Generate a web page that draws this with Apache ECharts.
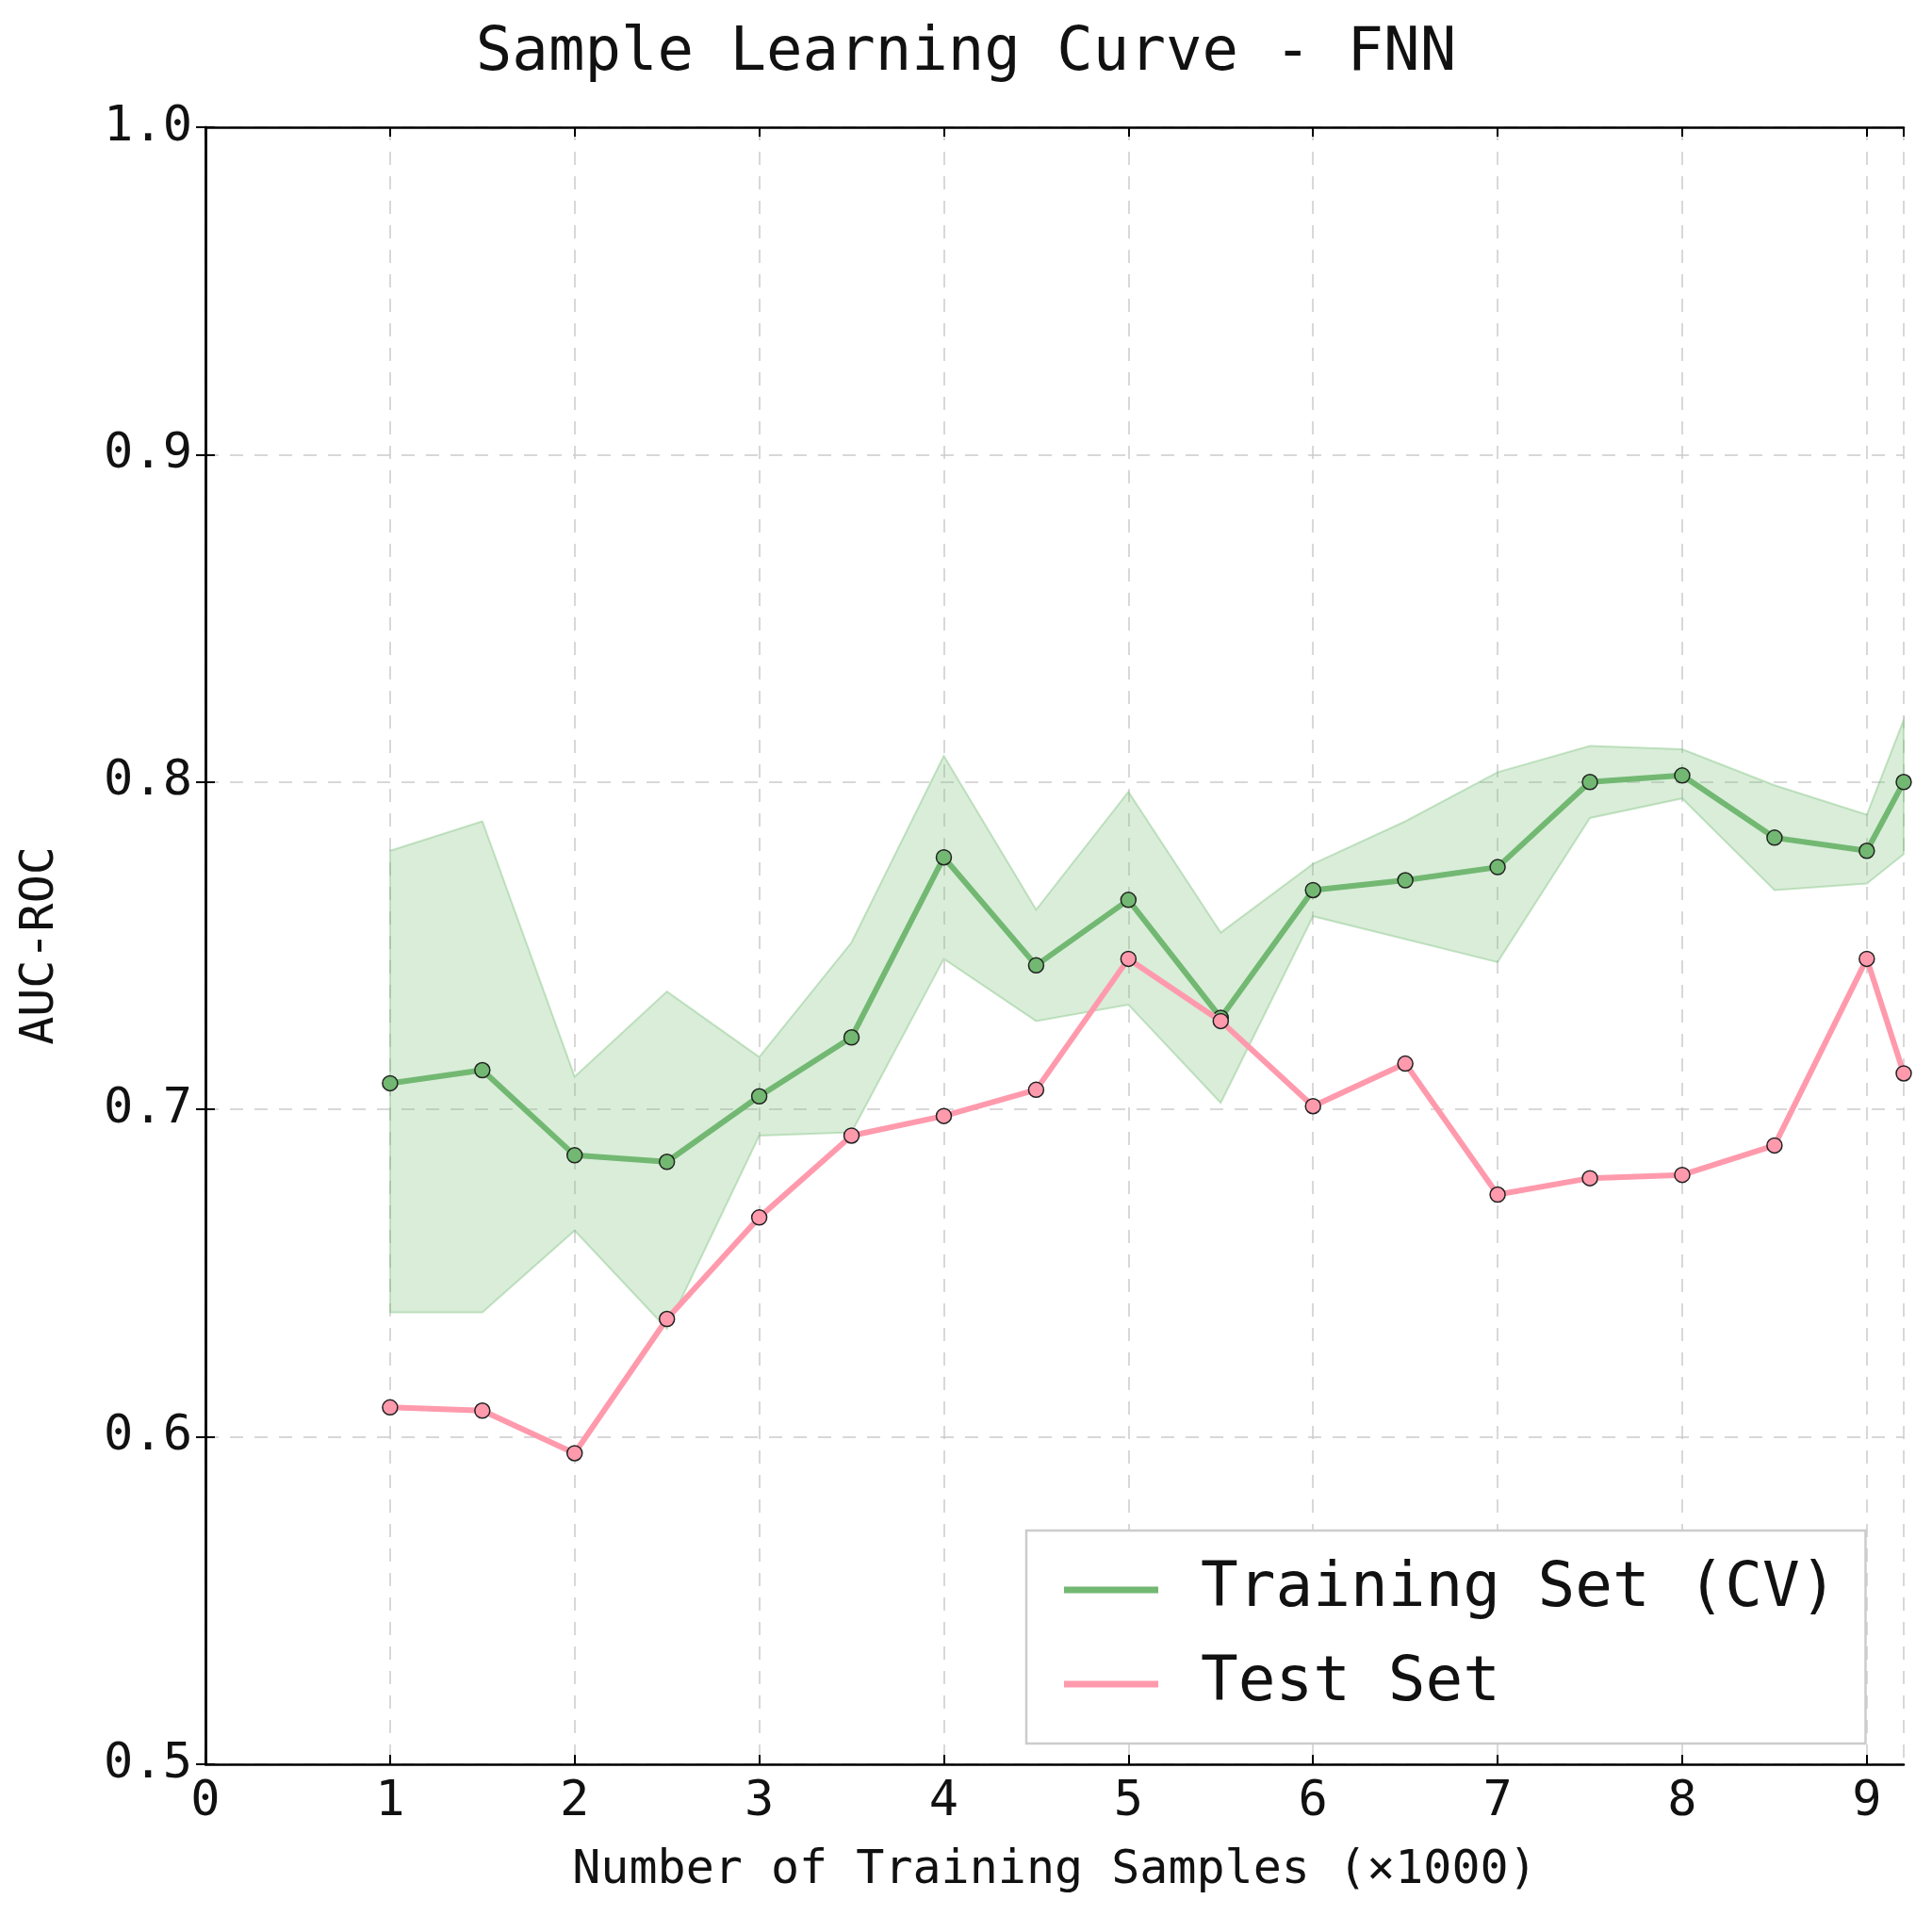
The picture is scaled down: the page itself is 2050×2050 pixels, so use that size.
<!DOCTYPE html>
<html><head><meta charset="utf-8">
<script src="https://cdn.jsdelivr.net/npm/echarts@6/dist/echarts.min.js"></script>
<style>html,body{margin:0;padding:0;background:#fff}#c{width:2050px;height:2050px}</style>
</head><body><div id="c"></div>
<script>
const xs = [1,1.5,2,2.5,3,3.5,4,4.5,5,5.5,6,6.5,7,7.5,8,8.5,9,9.2];
const trainMean = [0.708,0.712,0.686,0.684,0.704,0.722,0.777,0.744,0.764,0.728,0.767,0.770,0.774,0.800,0.802,0.783,0.779,0.800];
const trainUpper = [0.779,0.788,0.710,0.736,0.716,0.751,0.808,0.761,0.797,0.754,0.775,0.788,0.803,0.811,0.810,0.799,0.790,0.819];
const trainLower = [0.638,0.638,0.663,0.633,0.692,0.693,0.746,0.727,0.732,0.702,0.759,0.752,0.745,0.789,0.795,0.767,0.769,0.778];
const testVals = [0.609,0.608,0.595,0.636,0.667,0.692,0.698,0.706,0.746,0.727,0.701,0.714,0.674,0.679,0.680,0.689,0.746,0.711];
const F = 'DejaVu Sans Mono';
const pair = a => xs.map((x,i)=>[x,a[i]]);
const tickBase = {inside:true,length:10,lineStyle:{color:'#000',width:2}};
const chart = echarts.init(document.getElementById('c'));
chart.setOption({
  animation:false,
  title:{text:'Sample Learning Curve - FNN',left:'center',top:20,textStyle:{fontFamily:F,fontSize:64,fontWeight:'normal',color:'#111'}},
  grid:{left:218,right:30,top:135,bottom:178},
  xAxis:[{type:'value',min:0,max:9.2,interval:1,name:'Number of Training Samples (×1000)',nameLocation:'middle',nameGap:88,
    nameTextStyle:{fontFamily:F,fontSize:50,color:'#111'},
    axisLine:{lineStyle:{color:'#000',width:2.5}},axisTick:tickBase,
    axisLabel:{fontFamily:F,fontSize:52,color:'#111',margin:14,showMaxLabel:false},
    splitLine:{show:true,lineStyle:{color:'#ccc',type:[14,12],width:1.5}}},
   {type:'value',min:0,max:9.2,interval:1,position:'top',axisLine:{lineStyle:{color:'#000',width:2.5}},axisTick:tickBase,axisLabel:{show:false},splitLine:{show:false}}],
  yAxis:[{type:'value',min:0.5,max:1.0,interval:0.1,name:'AUC-ROC',nameLocation:'middle',nameGap:150,
    nameTextStyle:{fontFamily:F,fontSize:50,color:'#111'},
    axisLine:{lineStyle:{color:'#000',width:2.5}},axisTick:tickBase,
    axisLabel:{fontFamily:F,fontSize:52,color:'#111',margin:14,formatter:v=>v.toFixed(1)},
    splitLine:{show:true,lineStyle:{color:'#ccc',type:[14,12],width:1.5}}},
   {type:'value',min:0.5,max:1.0,interval:0.1,position:'right',axisLine:{lineStyle:{color:'#000',width:2.5}},axisTick:tickBase,axisLabel:{show:false},splitLine:{show:false}}],
  legend:{data:['Training Set (CV)','Test Set'],orient:'vertical',left:1089,top:1624,
    padding:[30,30,30,40],itemGap:34,itemWidth:100,itemHeight:7,icon:'rect',
    itemStyle:{borderWidth:0},
    borderColor:'#ccc',borderWidth:2.5,backgroundColor:'#fff',
    textStyle:{fontFamily:F,fontSize:66,color:'#111',padding:[0,0,0,40]}},
  series:[
    {name:'band',type:'custom',silent:true,z:1,data:xs.map((x,i)=>[x,trainLower[i],trainUpper[i]]),
      renderItem:(params,api)=>{
        if(params.dataIndex!==0) return null;
        const up=[],lo=[];
        for(let i=0;i<xs.length;i++){up.push(api.coord([xs[i],trainUpper[i]]));lo.push(api.coord([xs[i],trainLower[i]]));}
        return {type:'polygon',shape:{points:up.concat(lo.reverse())},
          style:{fill:'rgba(120,190,120,0.28)',stroke:'rgba(120,190,120,0.4)',lineWidth:2}};
      }},
    {name:'Training Set (CV)',type:'line',data:pair(trainMean),symbol:'circle',symbolSize:16,
      lineStyle:{color:'#72b872',width:6},itemStyle:{color:'#72b872',borderColor:'#222',borderWidth:1.5},z:3},
    {name:'Test Set',type:'line',data:pair(testVals),symbol:'circle',symbolSize:16,
      lineStyle:{color:'#ff9aad',width:6},itemStyle:{color:'#ff9aad',borderColor:'#222',borderWidth:1.5},z:4}
  ]
});
</script></body></html>
